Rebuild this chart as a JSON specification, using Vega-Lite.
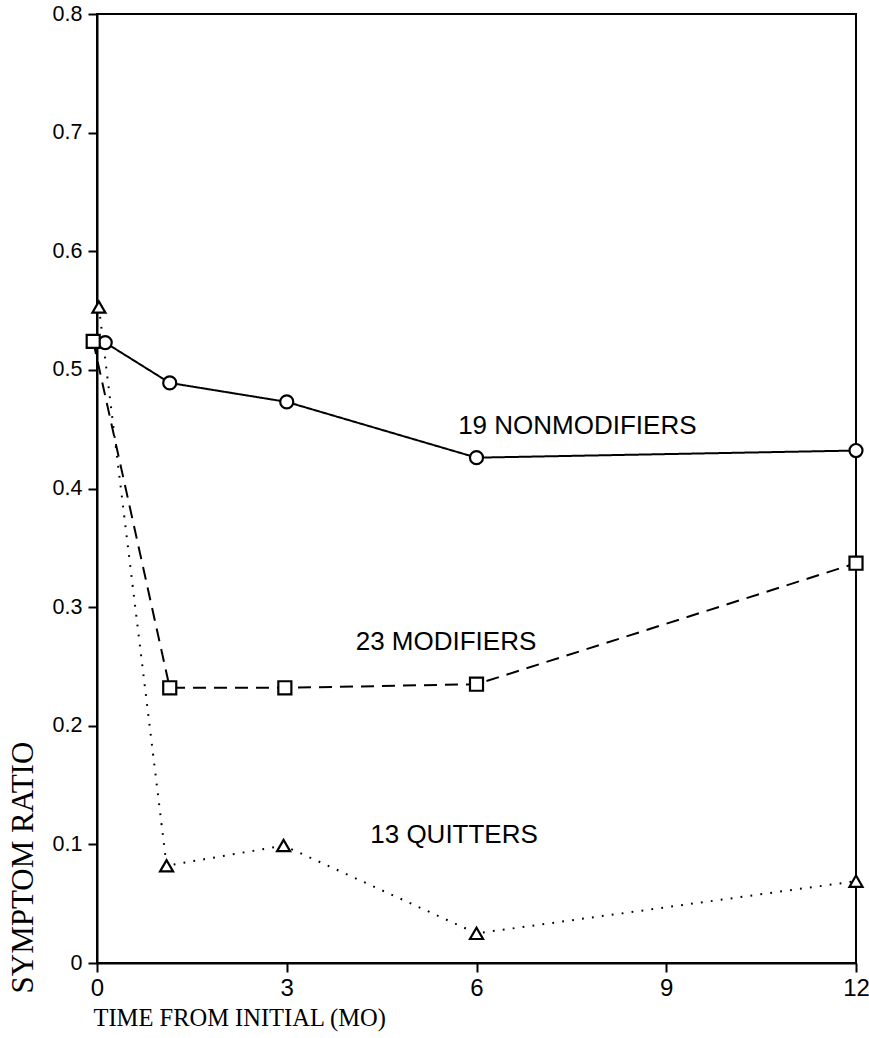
{
  "$schema": "https://vega.github.io/schema/vega-lite/v6.json",
  "width": 759,
  "height": 949,
  "autosize": {"type": "none"},
  "padding": {"left": 97, "top": 14, "right": 13, "bottom": 75},
  "background": "white",
  "config": {
    "view": {"stroke": "black", "strokeWidth": 2},
    "axis": {
      "grid": false,
      "domainColor": "black",
      "domainWidth": 2,
      "tickColor": "black",
      "tickWidth": 2,
      "tickSize": 9,
      "labelColor": "black",
      "labelFont": "Liberation Sans",
      "labelOverlap": false,
      "labelFlush": false,
      "titleColor": "black",
      "titleFont": "Liberation Serif",
      "titleFontWeight": "normal"
    }
  },
  "datasets": {
    "series": [
      {"group": "Nonmodifiers", "time": 0.13, "ratio": 0.523},
      {"group": "Nonmodifiers", "time": 1.15, "ratio": 0.489},
      {"group": "Nonmodifiers", "time": 3.0, "ratio": 0.473},
      {"group": "Nonmodifiers", "time": 6.0, "ratio": 0.426},
      {"group": "Nonmodifiers", "time": 12.0, "ratio": 0.432},
      {"group": "Modifiers", "time": -0.06, "ratio": 0.524},
      {"group": "Modifiers", "time": 1.15, "ratio": 0.232},
      {"group": "Modifiers", "time": 2.97, "ratio": 0.232},
      {"group": "Modifiers", "time": 6.0, "ratio": 0.235},
      {"group": "Modifiers", "time": 12.0, "ratio": 0.337},
      {"group": "Quitters", "time": 0.03, "ratio": 0.553},
      {"group": "Quitters", "time": 1.1, "ratio": 0.082},
      {"group": "Quitters", "time": 2.95, "ratio": 0.099},
      {"group": "Quitters", "time": 6.0, "ratio": 0.025},
      {"group": "Quitters", "time": 12.0, "ratio": 0.069}
    ],
    "labels": [
      {"label": "19 NONMODIFIERS", "time": 5.71, "ratio": 0.446},
      {"label": "23 MODIFIERS", "time": 4.09, "ratio": 0.264},
      {"label": "13 QUITTERS", "time": 4.32, "ratio": 0.101}
    ]
  },
  "layer": [
    {
      "data": {"name": "series"},
      "mark": {"type": "line", "color": "black", "strokeWidth": 2, "clip": false},
      "encoding": {
        "x": {
          "field": "time",
          "type": "quantitative",
          "scale": {"domain": [0, 12], "nice": false, "zero": false},
          "axis": {
            "values": [0, 3, 6, 9, 12],
            "format": "d",
            "labelFontSize": 24,
            "labelPadding": 4,
            "title": "TIME FROM INITIAL (MO)",
            "titleFontSize": 24.5,
            "titleX": -4,
            "titleY": 62,
            "titleAlign": "left",
            "titleBaseline": "alphabetic",
            "titleAnchor": "start"
          }
        },
        "y": {
          "field": "ratio",
          "type": "quantitative",
          "scale": {"domain": [0, 0.8], "nice": false, "zero": false},
          "axis": {
            "values": [0, 0.1, 0.2, 0.3, 0.4, 0.5, 0.6, 0.7, 0.8],
            "labelExpr": "datum.value == 0 ? '0' : format(datum.value, '.1f')",
            "labelFontSize": 21.5,
            "labelPadding": 6,
            "title": "SYMPTOM RATIO",
            "titleFontSize": 31,
            "titleAngle": -90,
            "titleX": -65,
            "titleY": 979,
            "titleAlign": "left",
            "titleBaseline": "alphabetic"
          }
        },
        "strokeDash": {
          "field": "group",
          "type": "nominal",
          "scale": {"domain": ["Nonmodifiers", "Modifiers", "Quitters"], "range": [[1, 0], [13, 8], [1.8, 8.2]]},
          "legend": null
        }
      }
    },
    {
      "data": {"name": "series"},
      "mark": {"type": "point", "filled": true, "fill": "white", "stroke": "black", "strokeWidth": 2.2, "size": 170, "opacity": 1, "clip": false},
      "encoding": {
        "x": {"field": "time", "type": "quantitative"},
        "y": {"field": "ratio", "type": "quantitative"},
        "shape": {
          "field": "group",
          "type": "nominal",
          "scale": {"domain": ["Nonmodifiers", "Modifiers", "Quitters"], "range": ["circle", "square", "triangle-up"]},
          "legend": null
        }
      }
    },
    {
      "data": {"name": "labels"},
      "mark": {"type": "text", "align": "left", "baseline": "alphabetic", "font": "Liberation Sans", "fontSize": 26, "color": "black"},
      "encoding": {
        "x": {"field": "time", "type": "quantitative"},
        "y": {"field": "ratio", "type": "quantitative"},
        "text": {"field": "label"}
      }
    }
  ]
}
